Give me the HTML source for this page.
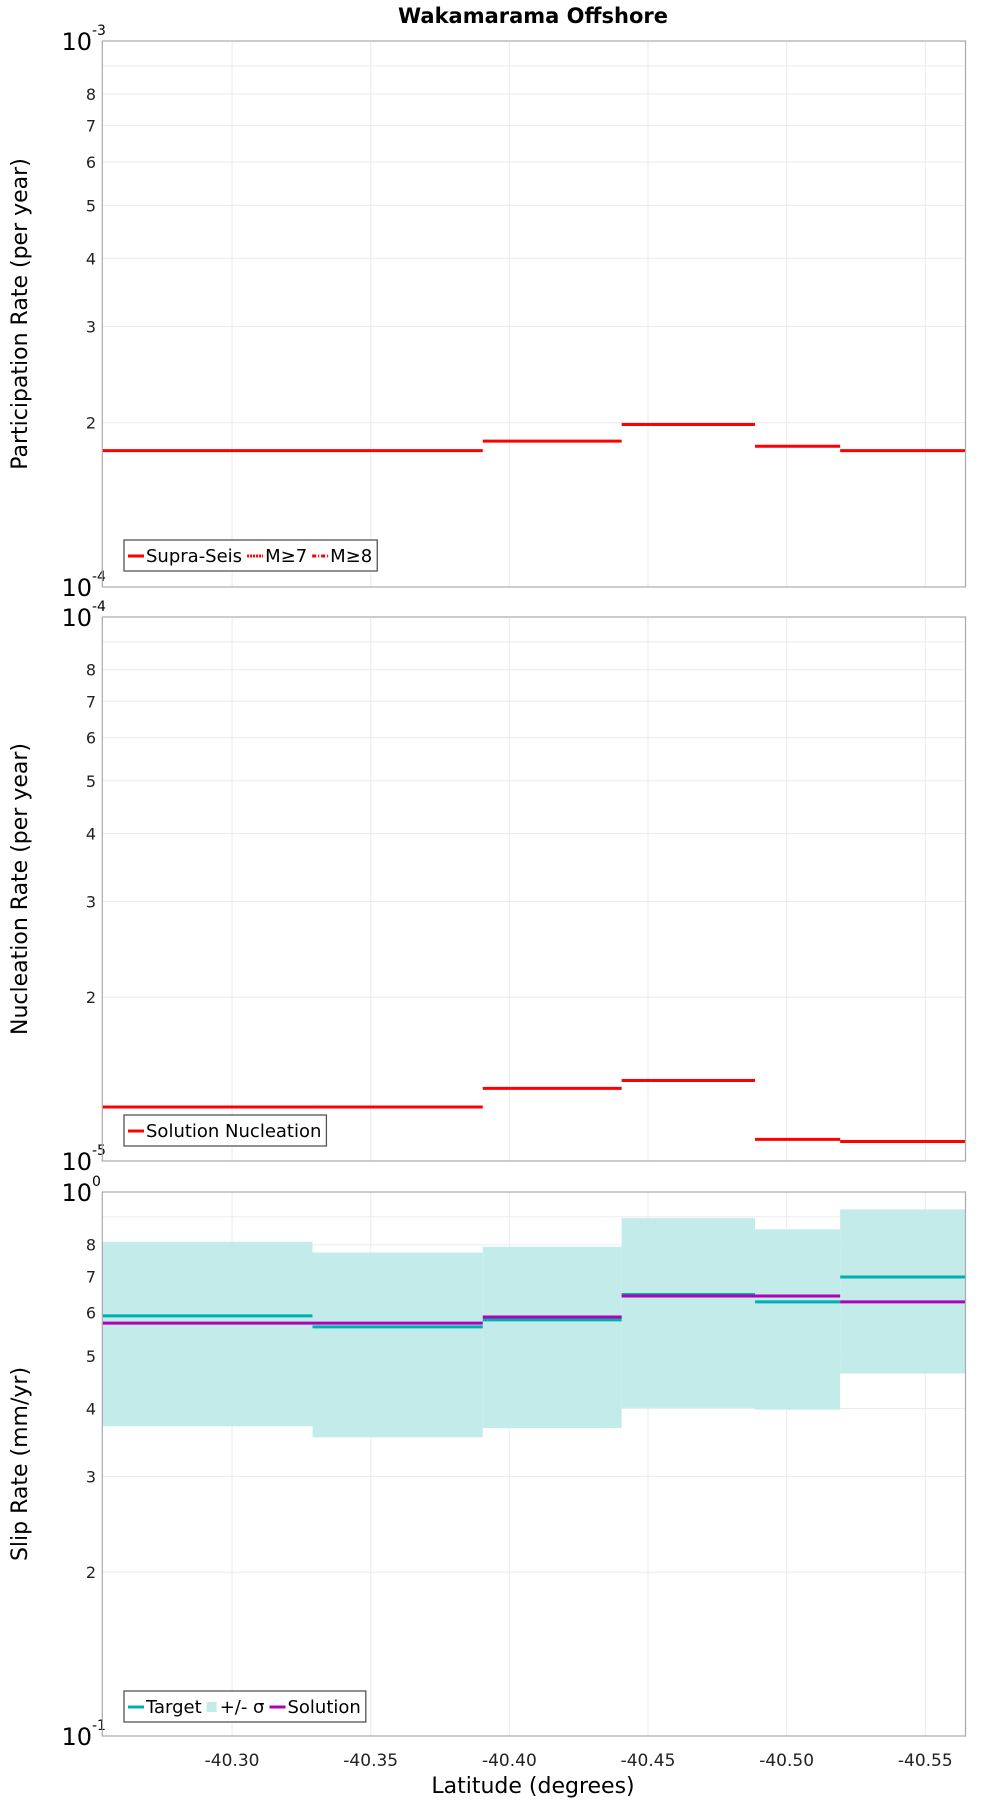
<!DOCTYPE html>
<html><head><meta charset="utf-8"><style>
body{margin:0;background:#fff}
svg{display:block;font-family:"DejaVu Sans","Liberation Sans",sans-serif}
</style></head><body>
<svg id="c" width="1000" height="1800" viewBox="0 0 1000 1800">
<text x="533" y="23" text-anchor="middle" font-size="21" font-weight="bold">Wakamarama Offshore</text>
</svg>
<script>
const bins = [-40.2532, -40.329, -40.3904, -40.4405, -40.4886, -40.5193, -40.5645];
const xTicks = [-40.30, -40.35, -40.40, -40.45, -40.50, -40.55];
const xTickLabels = ["-40.30", "-40.35", "-40.40", "-40.45", "-40.50", "-40.55"];
const participation = [1.777e-4, 1.777e-4, 1.85e-4, 1.984e-4, 1.81e-4, 1.777e-4];
const nucleation = [1.257e-5, 1.257e-5, 1.36e-5, 1.406e-5, 1.096e-5, 1.086e-5];
const slipTarget = [0.592, 0.565, 0.582, 0.648, 0.628, 0.698];
const slipSolution = [0.574, 0.574, 0.589, 0.644, 0.644, 0.628];
const slipUpper = [0.810, 0.774, 0.793, 0.895, 0.854, 0.929];
const slipLower = [0.371, 0.354, 0.368, 0.401, 0.398, 0.464];
const minorTicks = [2, 3, 4, 5, 6, 7, 8];

const NS = "http://www.w3.org/2000/svg";
const svg = document.getElementById('c');
const L = 102.3, R = 965.5;
const lat0 = bins[0], lat1 = bins[bins.length - 1];
function xs(lat) { return L + (lat - lat0) / (lat1 - lat0) * (R - L); }
function mk(tag, attrs, parent) {
  const e = document.createElementNS(NS, tag);
  for (const k in attrs) e.setAttribute(k, attrs[k]);
  (parent || svg).appendChild(e); return e;
}
function panel(top, bottom, decLo, name, ytitle) {
  const g = mk('g', {});
  
  
  const ys = v => bottom - (Math.log10(v) - decLo) * (bottom - top);
  xTicks.forEach(t => {
    const l = mk('line', {x1: xs(t), x2: xs(t), y1: top, y2: bottom, stroke: '#ebebeb', 'stroke-width': 1}, g);
    
    
  });
  [2,3,4,5,6,7,8,9].forEach(m => {
    const y = ys(m * Math.pow(10, decLo));
    const l = mk('line', {x1: L, x2: R, y1: y, y2: y, stroke: '#ebebeb', 'stroke-width': 1}, g);
    
    
  });
  minorTicks.forEach(m => {
    const t = mk('text', {x: 96, y: ys(m * Math.pow(10, decLo)) + 6, 'text-anchor': 'end', 'font-size': 16, fill: '#222'}, g);
    t.textContent = m;
    
    
  });
  [[decLo, bottom], [decLo + 1, top]].forEach(([d, y]) => {
    const t = mk('text', {x: 92, y: y + 9, 'text-anchor': 'end', 'font-size': 24}, g);
    t.textContent = '10';
    
    
    const s = mk('text', {x: 92, y: y - 6, 'font-size': 14}, g);
    s.textContent = String(d);
    
    
  });
  const yt = mk('text', {x: 0, y: 0, 'text-anchor': 'middle', 'font-size': 22, transform: `translate(27,${(top + bottom) / 2}) rotate(-90)`}, g);
  yt.textContent = ytitle;
  
  
  return {g, ys, top, bottom};
}
function frame(p) {
  const r = mk('rect', {x: L, y: p.top, width: R - L, height: p.bottom - p.top, fill: 'none', stroke: '#aaa', 'stroke-width': 1.2}, p.g);
  
  
}
function steps(p, vals, color, w, name) {
  vals.forEach((v, i) => {
    const y = p.ys(v);
    const l = mk('line', {x1: xs(bins[i]), x2: xs(bins[i + 1]), y1: y, y2: y, stroke: color, 'stroke-width': w}, p.g);
    
    
  });
}
function legend(p, x, y, items) {
  const g = mk('g', {}, p.g);
  
  
  const box = mk('rect', {x: x, y: y, width: 10, height: 31, fill: '#fff', stroke: '#555', 'stroke-width': 1.3}, g);
  let cx = x + 4;
  items.forEach(it => {
    if (it.fill) mk('rect', {x: cx, y: y + 11, width: 10, height: 10, fill: it.color}, g);
    else mk('line', {x1: cx, x2: cx + 16, y1: y + 16, y2: y + 16, stroke: it.color, 'stroke-width': 3, 'stroke-dasharray': it.dash || 'none'}, g);
    cx += it.fill ? 13 : 18;
    const t = mk('text', {x: cx, y: y + 22, 'font-size': 18}, g);
    t.textContent = it.label;
    
    
    cx += t.getComputedTextLength() + 5;
  });
  box.setAttribute('width', cx - x);
}
const p1 = panel(41, 587, -4, 'participation-panel', 'Participation Rate (per year)');
steps(p1, participation, '#ff0000', 3, 'participation-bar');
legend(p1, 124, 540, [{color: '#f00', label: 'Supra-Seis'}, {color: '#f00', label: 'M≥7', dash: '2,1'}, {color: '#f00', label: 'M≥8', dash: '4,2,1,2'}]);
frame(p1);
const p2 = panel(617, 1161, -5, 'nucleation-panel', 'Nucleation Rate (per year)');
steps(p2, nucleation, '#ff0000', 3, 'nucleation-bar');
legend(p2, 124, 1115, [{color: '#f00', label: 'Solution Nucleation'}]);
frame(p2);
const p3 = panel(1192, 1736, -1, 'slip-rate-panel', 'Slip Rate (mm/yr)');
slipUpper.forEach((u, i) => {
  const r = mk('rect', {x: xs(bins[i]), y: p3.ys(u), width: xs(bins[i + 1]) - xs(bins[i]), height: p3.ys(slipLower[i]) - p3.ys(u), fill: '#c2ebea'}, p3.g);
  
  
});
steps(p3, slipTarget, '#00b0b0', 3, 'target-bar');
steps(p3, slipSolution, '#b000b8', 3, 'solution-bar');
legend(p3, 124, 1691, [{color: '#00b0b0', label: 'Target'}, {color: '#c2ebea', label: '+/- σ', fill: true}, {color: '#b000b8', label: 'Solution'}]);
frame(p3);
xTicks.forEach((t, i) => {
  const e = mk('text', {x: xs(t), y: 1766, 'text-anchor': 'middle', 'font-size': 17, fill: '#222'});
  e.textContent = xTickLabels[i];
  
  
});
const xt = mk('text', {x: 533, y: 1793, 'text-anchor': 'middle', 'font-size': 22});
xt.textContent = 'Latitude (degrees)';


</script>
</body></html>
